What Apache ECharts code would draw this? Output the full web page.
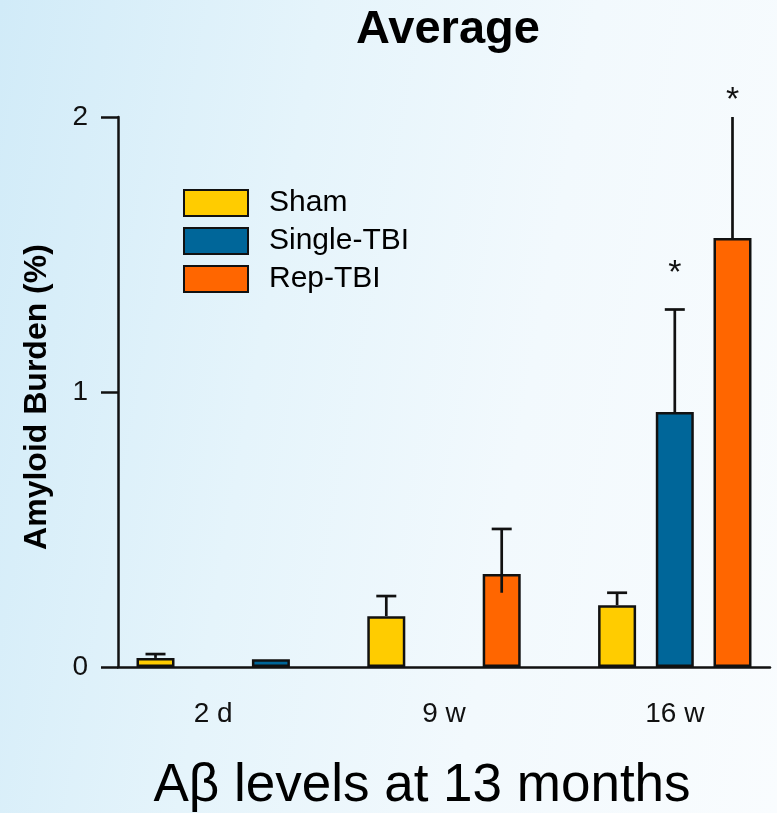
<!DOCTYPE html>
<html>
<head>
<meta charset="utf-8">
<script src="https://cdn.jsdelivr.net/npm/echarts@6/dist/echarts.min.js"></script>
<style>
  html, body { margin: 0; padding: 0; }
  #chart {
    width: 777px;
    height: 813px;
    background: linear-gradient(100deg, #d1ebf8 0%, #e5f4fb 35%, #f2f9fd 65%, #f9fcfe 100%);
  }
</style>
</head>
<body>
<div id="chart"></div>
<script>
const categories = ['2 d', '9 w', '16 w']
const seriesNames = ['Sham', 'Single-TBI', 'Rep-TBI']
const shamValues = [0.033, 0.185, 0.225]
const singleValues = [0.028, null, 0.927]
const repValues = [null, 0.338, 1.56]
// upper end of the error bars (Rep-TBI 16 w runs past the axis top)
const shamErrHigh = [0.047, 0.258, 0.27]
const singleErrHigh = [null, null, 1.30]
const repErrHigh = [null, 0.502, 2.05]
// lower end drawn inside the bar (only visible for Rep-TBI 9 w)
const repErrLow = [null, 0.27, null]
// significance asterisks (value where the '*' sits)
const singleStar = [null, null, 1.43]
const repStar = [null, null, 2.06]
const yTicks = [0, 1, 2]

const colors = ['#FFCC00', '#006699', '#FF6600']
const font = 'Liberation Sans, Arial, sans-serif'

const allValues = [shamValues, singleValues, repValues]
const allErrHigh = [shamErrHigh, singleErrHigh, repErrHigh]
const allErrLow = [[null, null, null], [null, null, null], repErrLow]
const allStars = [[null, null, null], singleStar, repStar]

// each time point takes 3 bar slots plus one empty slot;
// two bars sit in the outer slots, three fill all of them
function slotOf(seriesIdx, catIdx) {
  const present = allValues.map((v, k) => (v[catIdx] != null ? k : -1)).filter(k => k >= 0)
  const pos = present.length === 3 ? [0, 1, 2] : present.length === 2 ? [0, 2] : [1]
  return catIdx * 4 + pos[present.indexOf(seriesIdx)]
}
const groupCenters = categories.map((c, i) => i * 4 + 1)

const barSeries = seriesNames.map((name, s) => ({
  name,
  type: 'bar',
  barWidth: 38,
  barGap: '-100%',
  itemStyle: { color: colors[s], borderColor: '#111', borderWidth: 2.5 },
  data: allValues[s].map((v, i) => (v == null ? null : [slotOf(s, i), v])).filter(d => d),
  z: 2
}))

const errData = []
const starData = []
seriesNames.forEach((name, s) => {
  allValues[s].forEach((v, i) => {
    if (v == null) return
    const x = slotOf(s, i)
    if (allErrHigh[s][i] != null) {
      const low = allErrLow[s][i] != null ? allErrLow[s][i] : v
      errData.push([x, low, allErrHigh[s][i]])
    }
    if (allStars[s][i] != null) starData.push([x, allStars[s][i]])
  })
})

const chart = echarts.init(document.getElementById('chart'), null, { renderer: 'canvas' })

chart.setOption({
  backgroundColor: 'transparent',
  animation: false,
  title: {
    text: 'Average',
    left: 443,
    top: 2,
    textAlign: 'center',
    textStyle: { fontFamily: font, fontSize: 47, fontWeight: 'bold', color: '#000' }
  },
  legend: {
    orient: 'vertical',
    left: 183,
    top: 188,
    padding: 0,
    itemWidth: 64,
    itemHeight: 26,
    itemGap: 8,
    icon: 'rect',
    data: seriesNames,
    textStyle: { fontFamily: font, fontSize: 30, color: '#000', padding: [0, 0, 0, 16] }
  },
  grid: { left: 118, right: 7, top: 117, bottom: 146 },
  xAxis: {
    type: 'value',
    min: -0.65,
    max: 10.65,
    splitLine: { show: false },
    axisTick: { show: false },
    axisLine: { show: true, onZero: false, lineStyle: { color: '#111', width: 2.5 } },
    axisLabel: {
      customValues: groupCenters,
      formatter: v => categories[groupCenters.indexOf(v)] || '',
      margin: 33,
      fontFamily: font,
      fontSize: 28,
      color: '#111'
    }
  },
  yAxis: {
    type: 'value',
    min: yTicks[0],
    max: yTicks[yTicks.length - 1],
    interval: 1,
    splitLine: { show: false },
    axisLine: { show: true, onZero: false, lineStyle: { color: '#111', width: 2.5 } },
    axisTick: { show: true, length: 17, lineStyle: { color: '#111', width: 2.5 } },
    axisLabel: { margin: 30, fontFamily: font, fontSize: 28, color: '#111' }
  },
  graphic: [
    {
      type: 'text',
      x: 37,
      y: 397,
      rotation: Math.PI / 2,
      style: {
        text: 'Amyloid Burden (%)',
        font: 'bold 32px ' + font,
        fill: '#000',
        align: 'center',
        verticalAlign: 'middle'
      }
    },
    {
      type: 'text',
      x: 422,
      y: 786,
      style: {
        text: 'Aβ levels at 13 months',
        font: '53px ' + font,
        fill: '#000',
        align: 'center',
        verticalAlign: 'middle'
      }
    }
  ],
  series: [
    ...barSeries,
    {
      type: 'custom',
      name: 'errors',
      clip: true,
      z: 3,
      data: errData,
      renderItem: (params, api) => {
        const lo = api.coord([api.value(0), api.value(1)])
        const hi = api.coord([api.value(0), api.value(2)])
        const style = { stroke: '#111', lineWidth: 2.7 }
        return {
          type: 'group',
          children: [
            { type: 'line', shape: { x1: lo[0], y1: lo[1], x2: hi[0], y2: hi[1] }, style },
            { type: 'line', shape: { x1: hi[0] - 10, y1: hi[1], x2: hi[0] + 10, y2: hi[1] }, style }
          ]
        }
      }
    },
    {
      type: 'custom',
      name: 'stars',
      clip: false,
      z: 3,
      data: starData,
      renderItem: (params, api) => {
        const p = api.coord([api.value(0), api.value(1)])
        return {
          type: 'text',
          x: p[0],
          y: p[1],
          style: {
            text: '*',
            font: '34px ' + font,
            fill: '#111',
            align: 'center',
            verticalAlign: 'middle'
          }
        }
      }
    }
  ]
})
</script>
</body>
</html>
